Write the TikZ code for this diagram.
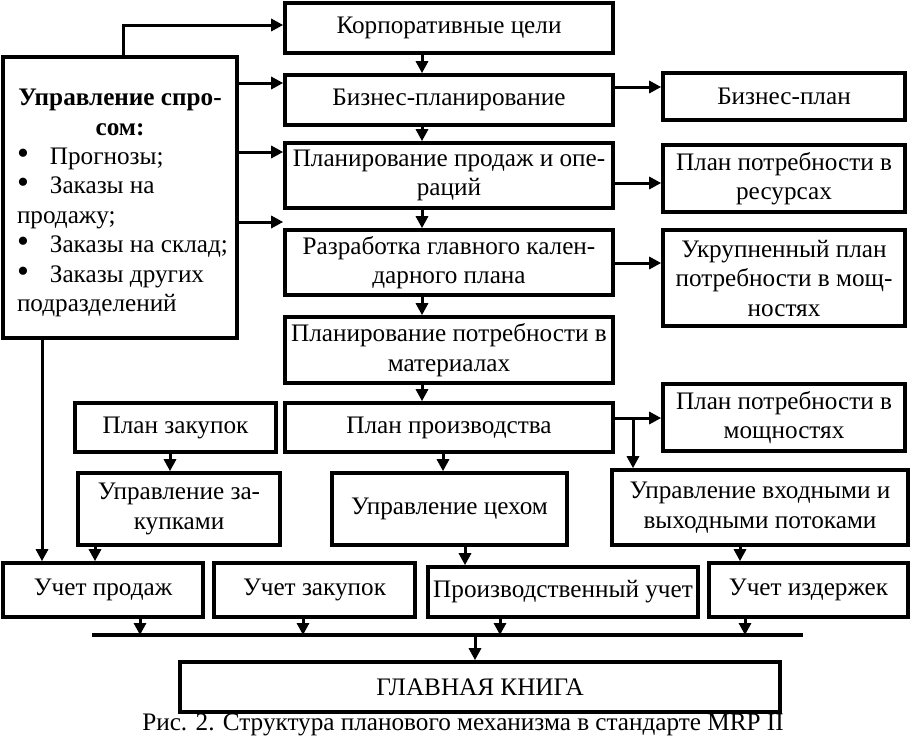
\documentclass[tikz,border=0pt]{standalone}
\usepackage{fontspec}
\setmainfont{Liberation Serif}
\usetikzlibrary{arrows.meta}
\newcommand{\bigbul}{\scalebox{1.35}{\textbullet}}
\begin{document}
\begin{tikzpicture}[x=1pt,y=-1pt,
  box/.style={draw,line width=3.6pt,inner sep=0pt,align=center,
    font=\fontsize{25.2}{29.5}\selectfont},
  arr/.style={line width=3pt,-{Triangle[length=12pt,width=12pt]}},
  bus/.style={line width=4pt},
]
\useasboundingbox (0,0) rectangle (912,737);

% middle column
\node[box,minimum width=328pt,minimum height=50pt] (cg) at (449,28) {Корпоративные цели};
\node[box,minimum width=328pt,minimum height=50pt] (bp) at (449,100) {Бизнес-планирование};
\node[box,minimum width=328pt,minimum height=65pt] (sop) at (449,175.5) {Планирование продаж и опе-\\раций};
\node[box,minimum width=328pt,minimum height=65pt] (mps) at (449,262.5) {Разработка главного кален-\\дарного плана};
\node[box,minimum width=328pt,minimum height=66pt] (mrp) at (449,350) {Планирование потребности в\\материалах};
\node[box,minimum width=328pt,minimum height=49pt] (pp) at (449,427.5) {План производства};

% left box
\node[box,minimum width=234pt,minimum height=281pt,text depth=0pt] (dm) at (120,197.5) {};
\node[inner sep=0pt] (dmtext) at (120,203)
  {\begin{minipage}{206pt}\fontsize{25.2}{29.4}\selectfont
   {\centering\bfseries Управление спро-\\сом:\par}
   \raggedright
   \mbox{\bigbul\hspace{21pt}Прогнозы;}\\
   \mbox{\bigbul\hspace{21pt}Заказы на}\\
   \mbox{продажу;}\\
   \mbox{\bigbul\hspace{21pt}Заказы на склад;}\\
   \mbox{\bigbul\hspace{21pt}Заказы других}\\
   \mbox{подразделений}
   \end{minipage}};

% right column
\node[box,minimum width=242pt,minimum height=47pt] (bplan) at (784,96.5) {Бизнес-план};
\node[box,minimum width=242pt,minimum height=67pt] (rrp) at (784,178.5) {План потребности в\\ресурсах};
\node[box,minimum width=242pt,minimum height=96pt] (rccp) at (784,278) {Укрупненный план\\потребности в мощ-\\ностях};
\node[box,minimum width=242pt,minimum height=67pt] (crp) at (784,417.5) {План потребности в\\мощностях};

% lower rows
\node[box,minimum width=201pt,minimum height=49pt] (pz) at (175.5,427.5) {План закупок};
\node[box,minimum width=202pt,minimum height=72pt] (uz) at (179,509) {Управление за-\\купками};
\node[box,minimum width=235pt,minimum height=72pt] (uc) at (449.5,509) {Управление цехом};
\node[box,minimum width=296pt,minimum height=75pt] (uio) at (760,507.5) {Управление входными и\\выходными потоками};

\node[box,minimum width=200pt,minimum height=54pt] (us) at (103,590) {Учет продаж};
\node[box,minimum width=201pt,minimum height=54pt] (uzk) at (314.5,590) {Учет закупок};
\node[box,minimum width=270pt,minimum height=50pt] (pu) at (563,592) {Производственный учет};
\node[box,minimum width=199pt,minimum height=54pt] (ui) at (808.5,590) {Учет издержек};

\node[box,minimum width=600pt,minimum height=50pt] (gk) at (480,687) {ГЛАВНАЯ КНИГА};

\node[font=\fontsize{25.2}{29}\selectfont,inner sep=0pt,anchor=base] (cap) at (463,730)
  {Рис. 2. Структура планового механизма в стандарте MRP II};

% bus
\coordinate (busL) at (92,635);
\coordinate (busR) at (803,635);
\draw[bus] (busL) -- (busR);

% connectors from demand management
\draw[arr] (dm.north -| 123,0) |- (cg.west |- 0,25);
\draw[arr] (dm.east |- 0,83) -- (bp.west |- 0,83);
\draw[arr] (dm.east |- 0,152) -- (sop.west |- 0,152);
\draw[arr] (dm.east |- 0,222) -- (mps.west |- 0,222);
\draw[arr] (dm.south -| 42,0) -- (us.north -| 42,0);

% middle vertical chain
\draw[arr] (cg.south -| 422,0) -- (bp.north -| 422,0);
\draw[arr] (bp.south -| 422,0) -- (sop.north -| 422,0);
\draw[arr] (sop.south -| 422,0) -- (mps.north -| 422,0);
\draw[arr] (mps.south -| 422,0) -- (mrp.north -| 422,0);
\draw[arr] (mrp.south -| 422,0) -- (pp.north -| 422,0);

% to right column
\draw[arr] (bp.east |- 0,87) -- (bplan.west |- 0,87);
\draw[arr] (sop.east |- 0,183) -- (rrp.west |- 0,183);
\draw[arr] (mps.east |- 0,263) -- (rccp.west |- 0,263);
\draw[arr] (pp.east |- 0,418) -- (crp.west |- 0,418);
\coordinate (br) at (633,418);
\draw[arr] (br) -- (uio.north -| br);

% lower verticals
\draw[arr] (pz.south -| 170,0) -- (uz.north -| 170,0);
\draw[arr] (pp.south -| 443,0) -- (uc.north -| 443,0);
\draw[arr] (uz.south -| 95,0) -- (us.north -| 95,0);
\draw[arr] (uc.south -| 465,0) -- (pu.north -| 465,0);
\draw[arr] (uio.south -| 740,0) -- (ui.north -| 740,0);

% to bus
\draw[arr] (us.south -| 140,0) -- (busL -| 140,0);
\draw[arr] (uzk.south -| 303,0) -- (busL -| 303,0);
\draw[arr] (pu.south -| 500,0) -- (busL -| 500,0);
\draw[arr] (ui.south -| 745,0) -- (busL -| 745,0);
\draw[arr] (busL -| 475,0) -- (gk.north -| 475,0);
\end{tikzpicture}
\end{document}
